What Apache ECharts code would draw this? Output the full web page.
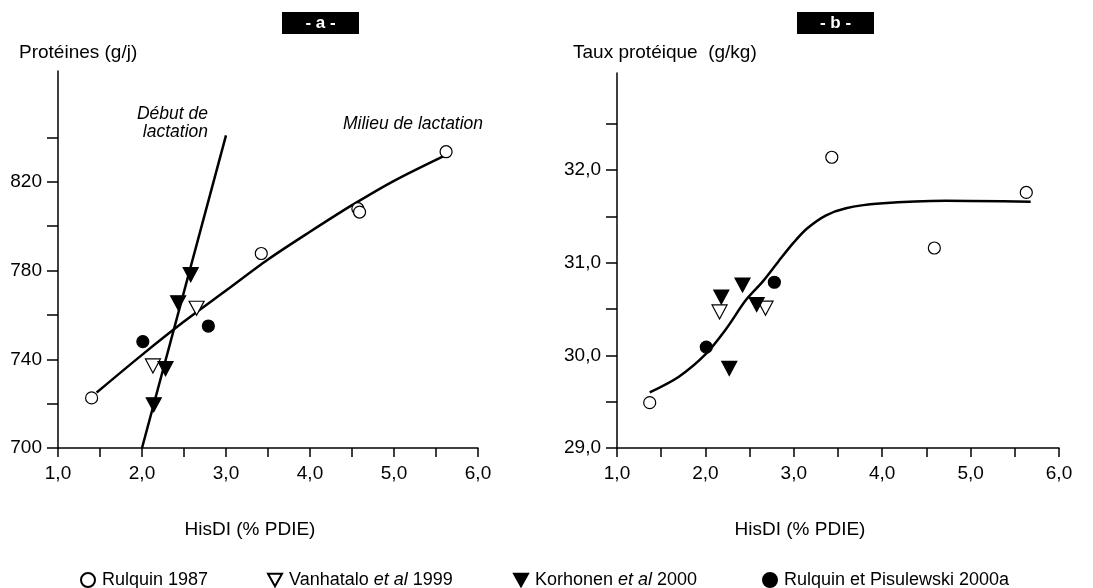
<!DOCTYPE html>
<html>
<head>
<meta charset="utf-8">
<title>HisDI</title>
<script src="https://cdn.jsdelivr.net/npm/echarts@6/dist/echarts.min.js"></script>
<style>
  html, body { margin: 0; padding: 0; background: #fff; }
  #chart { width: 1093px; height: 588px; }
</style>
</head>
<body>
<div id="chart"></div>
<script>
// --- panel a : Protéines (g/j) ---
var rulquinA = [[1.40, 722.6], [3.42, 787.7], [4.57, 807.9], [4.59, 806.4], [5.62, 833.6]];
var vanhataloA = [[2.13, 737], [2.65, 763]];
var korhonenA = [[2.14, 719.5], [2.28, 735.8], [2.43, 765.5], [2.58, 778.2]];
var pisulewskiA = [[2.01, 748], [2.79, 755]];
// courbes
var milieuLine = [[1.46, 725], [2.0, 742], [2.5, 757], [3.0, 771], [3.5, 785], [4.0, 797.5], [4.5, 809.5], [5.0, 820.5], [5.61, 832]];
var debutLine = [[2.0, 700], [3.0, 841]];

// --- panel b : Taux protéique (g/kg) ---
var rulquinB = [[1.37, 29.49], [3.43, 32.14], [4.59, 31.16], [5.63, 31.76]];
var vanhataloB = [[2.16, 30.47], [2.68, 30.51]];
var korhonenB = [[2.18, 30.63], [2.27, 29.86], [2.42, 30.76], [2.58, 30.55]];
var pisulewskiB = [[2.01, 30.09], [2.78, 30.79]];
var courbeB = [[1.37, 29.6], [1.7, 29.77], [2.0, 30.01], [2.23, 30.28], [2.46, 30.6], [2.65, 30.8], [2.83, 31.02],
    [3.0, 31.22], [3.15, 31.37], [3.36, 31.51], [3.59, 31.59], [3.97, 31.64], [4.72, 31.67], [5.68, 31.66]];

// ticks / labels
var xTicks = [1, 1.5, 2, 2.5, 3, 3.5, 4, 4.5, 5, 5.5, 6];
var xLabels = [1, 2, 3, 4, 5, 6];
var yTicksA = [700, 720, 740, 760, 780, 800, 820, 840];
var yLabelsA = [700, 740, 780, 820];
var yTicksB = [29, 29.5, 30, 30.5, 31, 31.5, 32, 32.5];
var yLabelsB = [29, 30, 31, 32];

var names = ['Rulquin 1987', 'Vanhatalo et al 1999', 'Korhonen et al 2000', 'Rulquin et Pisulewski 2000a'];

var FONT = "'Liberation Sans', Arial, Helvetica, sans-serif";
var downTri = 'path://M0,0L20,0L10,18Z';
var comma = function (v) { return v.toFixed(1).replace('.', ','); };

function xAxisOf(grid) {
    return {
        type: 'value', gridIndex: grid, min: 1, max: 6,
        splitLine: { show: false },
        axisLine: { lineStyle: { color: '#000', width: 1.5 } },
        axisTick: { customValues: xTicks, length: 9, lineStyle: { color: '#000', width: 1.5 } },
        axisLabel: { customValues: xLabels, formatter: comma, color: '#000', fontSize: 19, fontFamily: FONT, margin: 16 }
    };
}

function yAxisOf(grid, min, max, ticks, labels, fmt) {
    return {
        type: 'value', gridIndex: grid, min: min, max: max,
        splitLine: { show: false },
        axisLine: { show: true, lineStyle: { color: '#000', width: 1.5 } },
        axisTick: { show: true, customValues: ticks, length: 11, lineStyle: { color: '#000', width: 1.5 } },
        axisLabel: { customValues: labels, formatter: fmt, color: '#000', fontSize: 19, fontFamily: FONT, margin: 16 }
    };
}

function pts(name, data, idx, kind) {
    var s = {
        name: name, type: 'scatter', data: data, xAxisIndex: idx, yAxisIndex: idx, z: 5,
        symbolSize: 12, symbol: 'circle',
        itemStyle: { color: '#000', borderColor: '#000', borderWidth: 1.2, opacity: 1 }
    };
    if (kind === 'open') s.itemStyle.color = '#fff';
    if (kind === 'tri' || kind === 'openTri') { s.symbol = downTri; s.symbolSize = [15, 14]; }
    if (kind === 'openTri') s.itemStyle.color = '#fff';
    return s;
}

function curve(data, idx, smooth) {
    return {
        type: 'line', data: data, xAxisIndex: idx, yAxisIndex: idx, z: 3,
        showSymbol: false, smooth: smooth, silent: true,
        lineStyle: { color: '#000', width: 2.5 }
    };
}

function txt(x, y, text, opts) {
    opts = opts || {};
    return {
        type: 'text', x: x, y: y,
        style: {
            text: text, fill: opts.fill || '#000',
            font: (opts.style || '') + ' ' + (opts.weight || 'normal') + ' ' + (opts.size || 19) + 'px ' + FONT,
            textAlign: opts.align || 'left', textVerticalAlign: 'middle'
        }
    };
}

function leg(name, left) {
    return {
        data: [name], left: left, top: 571, padding: 0, selectedMode: false,
        itemWidth: 14, itemHeight: 14, itemGap: 0,
        formatter: function (n) { return n.replace('et al', '{i|et al}'); },
        textStyle: {
            color: '#000', fontSize: 18, fontFamily: FONT, padding: [0, 0, 0, 2],
            rich: { i: { fontStyle: 'italic', fontSize: 18, fontFamily: FONT, color: '#000' } }
        }
    };
}

var chart = echarts.init(document.getElementById('chart'), null, { renderer: 'canvas' });

chart.setOption({
    backgroundColor: '#fff',
    animation: false,
    grid: [
        { left: 58, top: 71, width: 420, height: 377 },
        { left: 617, top: 73, width: 442, height: 375 }
    ],
    xAxis: [xAxisOf(0), xAxisOf(1)],
    yAxis: [
        yAxisOf(0, 700, 870, yTicksA, yLabelsA, function (v) { return String(v); }),
        yAxisOf(1, 29, 33.05, yTicksB, yLabelsB, comma)
    ],
    legend: [leg(names[0], 80), leg(names[1], 267), leg(names[2], 513), leg(names[3], 762)],
    series: [
        curve(milieuLine, 0, 0.3),
        curve(debutLine, 0, false),
        pts(names[0], rulquinA, 0, 'open'),
        pts(names[1], vanhataloA, 0, 'openTri'),
        pts(names[2], korhonenA, 0, 'tri'),
        pts(names[3], pisulewskiA, 0, 'dot'),
        curve(courbeB, 1, 0.3),
        pts(names[0], rulquinB, 1, 'open'),
        pts(names[1], vanhataloB, 1, 'openTri'),
        pts(names[2], korhonenB, 1, 'tri'),
        pts(names[3], pisulewskiB, 1, 'dot')
    ],
    graphic: [
        { type: 'rect', shape: { x: 282, y: 12, width: 77, height: 22 }, style: { fill: '#000' } },
        txt(320.5, 23.5, '- a -', { fill: '#fff', weight: 'bold', size: 17, align: 'center' }),
        { type: 'rect', shape: { x: 797, y: 12, width: 77, height: 22 }, style: { fill: '#000' } },
        txt(835.5, 23.5, '- b -', { fill: '#fff', weight: 'bold', size: 17, align: 'center' }),
        txt(19, 53, 'Protéines (g/j)'),
        txt(573, 53, 'Taux protéique  (g/kg)'),
        txt(208, 114, 'Début de', { style: 'italic', size: 17.5, align: 'right' }),
        txt(208, 132, 'lactation', { style: 'italic', size: 17.5, align: 'right' }),
        txt(343, 124, 'Milieu de lactation', { style: 'italic', size: 17.5 }),
        txt(250, 530, 'HisDI (% PDIE)', { align: 'center' }),
        txt(800, 530, 'HisDI (% PDIE)', { align: 'center' })
    ]
});
</script>
</body>
</html>
